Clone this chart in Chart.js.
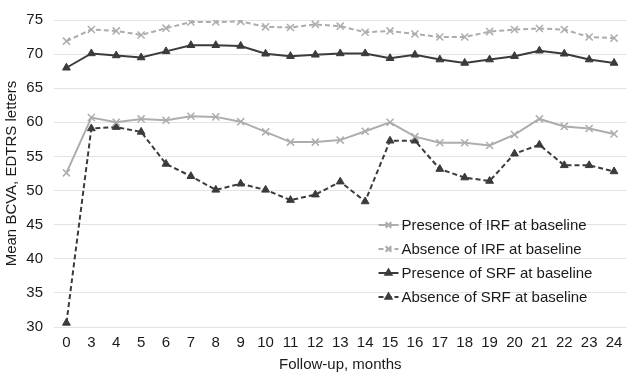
<!DOCTYPE html>
<html>
<head>
<meta charset="utf-8">
<script src="https://cdn.jsdelivr.net/npm/chart.js@4/dist/chart.umd.min.js"></script>
<style>
  html, body { margin: 0; padding: 0; background: #fff; }
  #wrap { width: 633px; height: 374px; position: relative; }
</style>
</head>
<body>
<div id="wrap"><canvas id="bcva-chart"></canvas></div>
<script>
// x축 레이블 (개월)
const months = ['0', '3', '4', '5', '6', '7', '8', '9', '10', '11', '12', '13',
  '14', '15', '16', '17', '18', '19', '20', '21', '22', '23', '24'];

// 시리즈 값
const presenceIRF = [52.6, 60.7, 60.0, 60.5, 60.3, 60.9, 60.8, 60.1, 58.6, 57.1, 57.1, 57.4,
  58.7, 60.0, 57.9, 57.0, 57.0, 56.6, 58.2, 60.5, 59.4, 59.1, 58.3];
const absenceIRF = [71.9, 73.6, 73.4, 72.8, 73.8, 74.7, 74.7, 74.8, 74.0, 73.9, 74.35, 74.1,
  73.2, 73.4, 72.95, 72.5, 72.5, 73.3, 73.6, 73.75, 73.6, 72.5, 72.35];
const presenceSRF = [68.0, 70.1, 69.8, 69.5, 70.4, 71.3, 71.3, 71.2, 70.05, 69.7, 69.9, 70.1,
  70.1, 69.4, 69.9, 69.2, 68.7, 69.2, 69.7, 70.5, 70.05, 69.2, 68.7];
const absenceSRF = [30.6, 59.1, 59.3, 58.6, 53.9, 52.1, 50.1, 51.0, 50.1, 48.6, 49.4, 51.3,
  48.4, 57.3, 57.3, 53.15, 51.9, 51.4, 55.4, 56.7, 53.7, 53.7, 52.8];

const seriesLabels = [
  'Presence of IRF at baseline',
  'Absence of IRF at baseline',
  'Presence of SRF at baseline',
  'Absence of SRF at baseline',
];

const FONT = '"Liberation Sans", Arial, Helvetica, sans-serif';
const LIGHT = '#adadad';
const DARK = '#3b3b3b';

function makeSet(label, data, color, dashed, style) {
  return {
    label: label,
    data: data,
    borderColor: color,
    backgroundColor: color,
    borderWidth: 2,
    borderDash: dashed ? [5, 3] : [],
    pointStyle: style,
    pointRadius: style === 'triangle' ? 4.5 : 5,
    pointBorderWidth: style === 'triangle' ? 1 : 1.5,
    pointBorderColor: color,
    pointBackgroundColor: color,
    tension: 0,
  };
}

// 범례는 차트 안쪽 오른쪽 아래에 직접 그림
const innerLegend = {
  id: 'innerLegend',
  afterDraw(chart) {
    const ctx = chart.ctx;
    const area = chart.chartArea;
    const x0 = area.right - 248;
    const y0 = 225;
    chart.data.datasets.forEach((ds, i) => {
      const y = y0 + i * 24;
      ctx.save();
      ctx.strokeStyle = ds.borderColor;
      ctx.fillStyle = ds.borderColor;
      ctx.lineWidth = 2;
      ctx.setLineDash(ds.borderDash);
      ctx.beginPath();
      ctx.moveTo(x0, y);
      ctx.lineTo(x0 + 20, y);
      ctx.stroke();
      ctx.setLineDash([]);
      Chart.helpers.drawPoint(ctx, {
        pointStyle: ds.pointStyle,
        radius: ds.pointStyle === 'triangle' ? 3.5 : 4,
        borderWidth: 1.5,
        rotation: 0,
      }, x0 + 10, y);
      ctx.fillStyle = '#1a1a1a';
      ctx.font = '15px ' + FONT;
      ctx.textBaseline = 'middle';
      ctx.textAlign = 'left';
      ctx.fillText(ds.label, x0 + 23, y + 1);
      ctx.restore();
    });
  },
};

new Chart(document.getElementById('bcva-chart'), {
  type: 'line',
  data: {
    labels: months,
    datasets: [
      makeSet(seriesLabels[0], presenceIRF, LIGHT, false, 'crossRot'),
      makeSet(seriesLabels[1], absenceIRF, LIGHT, true, 'crossRot'),
      makeSet(seriesLabels[2], presenceSRF, DARK, false, 'triangle'),
      makeSet(seriesLabels[3], absenceSRF, DARK, true, 'triangle'),
    ],
  },
  options: {
    responsive: true,
    maintainAspectRatio: false,
    animation: false,
    layout: { padding: { top: 7, right: 2, left: 0, bottom: 0 } },
    plugins: {
      legend: { display: false },
      tooltip: { enabled: false },
    },
    scales: {
      x: {
        offset: true,
        grid: { display: false, drawTicks: false },
        border: { display: false },
        ticks: { color: '#1a1a1a', font: { family: FONT, size: 15 }, padding: 7, maxRotation: 0, autoSkip: false },
        title: {
          display: true,
          text: 'Follow-up, months',
          color: '#1a1a1a',
          font: { family: FONT, size: 15 },
          padding: { top: 0, bottom: 0 },
        },
        afterFit(scale) { scale.height = 47; },
      },
      y: {
        min: 30,
        max: 75,
        ticks: { stepSize: 5, color: '#1a1a1a', font: { family: FONT, size: 15 }, padding: 11 },
        grid: { color: '#e3e3e3', lineWidth: 1, drawTicks: false },
        border: { display: false },
        title: {
          display: true,
          text: 'Mean BCVA, EDTRS letters',
          color: '#1a1a1a',
          font: { family: FONT, size: 15 },
          padding: { top: 3, bottom: 0 },
        },
        afterFit(scale) { scale.width = 54; },
      },
    },
  },
  plugins: [innerLegend],
});
</script>
</body>
</html>
